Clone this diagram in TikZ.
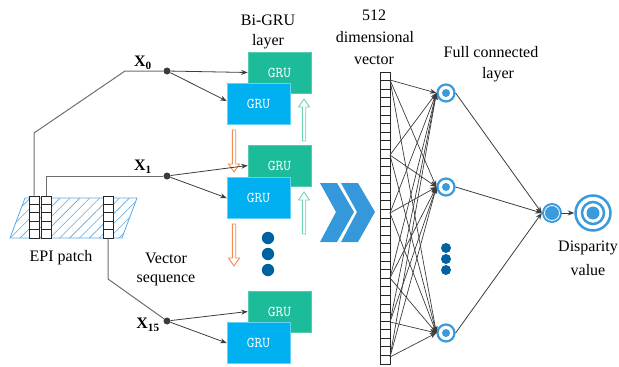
\documentclass[tikz,border=0pt]{standalone}
\usepackage{fontspec}
\setmainfont{Liberation Serif}
\usetikzlibrary{arrows.meta,patterns.meta,calc}
\definecolor{grugreen}{RGB}{28,187,153}
\definecolor{grublue}{RGB}{0,176,240}
\definecolor{tealarrow}{RGB}{110,212,182}
\definecolor{orangearrow}{RGB}{242,140,85}
\definecolor{dotblue}{RGB}{0,98,162}
\definecolor{chevblue}{RGB}{52,152,219}
\definecolor{fcblue}{RGB}{58,155,220}
\definecolor{hatchblue}{RGB}{90,170,230}
\definecolor{wiregray}{RGB}{110,110,110}
\definecolor{arrgray}{RGB}{60,60,60}
\begin{document}
\begin{tikzpicture}[x=1pt,y=-1pt,
  lbl/.style={font=\fontsize{16}{18}\selectfont, inner sep=0},
  xlbl/.style={font=\fontsize{16}{18}\selectfont\bfseries, inner sep=0},
  grn/.style={rectangle, fill=grugreen, draw=grugreen!75!white, line width=0.6pt,
    minimum width=63pt, minimum height=41pt, inner sep=0, text=white,
    font=\ttfamily\fontsize{15}{16}\selectfont},
  blu/.style={grn, fill=grublue, draw=grublue!60!white},
  dotn/.style={circle, fill=arrgray, minimum size=7pt, inner sep=0},
  arr/.style={draw=arrgray, line width=0.8pt, -{Stealth[length=6.5pt,width=5pt]}},
  wire/.style={draw=wiregray, line width=1pt},
  cellcol/.style={draw=black!85, fill=white, line width=0.7pt, minimum width=10pt, inner sep=0},
  fcn/.style={circle, draw=fcblue, line width=2.2pt, fill=white, minimum size=17pt, inner sep=0},
  hup/.pic={\draw[line width=0.9pt, fill=white, pic actions]
     (-1.7,0) -- (-1.7,-34) -- (-5.5,-34) -- (0,-42) -- (5.5,-34) -- (1.7,-34) -- (1.7,0) -- cycle;}
]
\useasboundingbox (0,0) rectangle (619,367);

% EPI patch
\path[draw=hatchblue, line width=0.8pt, pattern={Lines[angle=45,distance=7pt,line width=0.6pt]}, pattern color=hatchblue]
  (10,238) -- (25,198) -- (137,198) -- (122,238) -- cycle;
\node[cellcol, minimum height=42pt] (c1) at (34,217) {};
\node[cellcol, minimum height=42pt] (c2) at (46,217) {};
\node[cellcol, minimum height=42pt] (c3) at (108,217) {};
\foreach \k in {1,...,4}{
  \draw[black!85, line width=0.7pt] (29,{196+\k*8.4}) -- (39,{196+\k*8.4});
  \draw[black!85, line width=0.7pt] (41,{196+\k*8.4}) -- (51,{196+\k*8.4});
  \draw[black!85, line width=0.7pt] (103,{196+\k*8.4}) -- (113,{196+\k*8.4});
}
\node[lbl] (epi) at (61,258) {EPI patch};

% input dots and wires
\node[dotn] (d0) at (167,71) {};
\node[dotn] (d1) at (167,176) {};
\node[dotn] (d15) at (167,321) {};
\draw[wire] (c1.north) -- (34,133) -- (125,71) -- (d0);
\draw[wire] (c2.north) -- (46,176) -- (d1);
\draw[wire] (c3.south) -- (108,279) -- (d15);
\node[xlbl] (x0) at (143,63) {X\textsubscript{0}};
\node[xlbl] (x1) at (143,167) {X\textsubscript{1}};
\node[xlbl] (x15) at (148,325) {X\textsubscript{15}};
\node[lbl] (vs1) at (166,258) {Vector};
\node[lbl] (vs2) at (166,280) {sequence};

% hollow down arrows (behind)
\pic[draw=orangearrow, rotate=180] at (234,130) {hup};
\pic[draw=orangearrow, rotate=180] at (234,224) {hup};

% GRU boxes
\node[grn] (g0) at (279.5,72.5) {GRU};
\node[blu] (b0) at (258.5,104) {GRU};
\node[grn] (g1) at (279.5,165.5) {GRU};
\node[blu] (b1) at (258.5,198) {GRU};
\node[grn] (g15) at (279.5,311.5) {GRU};
\node[blu] (b15) at (258.5,343) {GRU};
\pic[draw=tealarrow] at (304,141) {hup};
\pic[draw=tealarrow] at (304,234) {hup};

\draw[arr] (d0) -- (g0.west);
\draw[arr] (d0) -- ([yshift=3pt]b0.west);
\draw[arr] (d1) -- (g1.west);
\draw[arr] (d1) -- (b1.west);
\draw[arr] (d15) -- (g15.west);
\draw[arr] (d15) -- (b15.west);

\fill[dotblue] (268,238) circle[radius=6.2pt];
\fill[dotblue] (268,254) circle[radius=6.2pt];
\fill[dotblue] (268,270) circle[radius=6.2pt];
\node[lbl] (bg1) at (268,20) {Bi-GRU};
\node[lbl] (bg2) at (268,42) {layer};

% chevrons
\fill[chevblue] (320,183) -- (337,183) -- (354,212) -- (337,242) -- (320,242) -- (336,212) -- cycle;
\fill[chevblue] (341,183) -- (358,183) -- (375,212) -- (358,242) -- (341,242) -- (357,212) -- cycle;

% 512 vector
\node[cellcol, minimum height=292pt] (vec) at (385,218) {};
\foreach \k in {1,...,33}
  \draw[black!85, line width=0.7pt] (380,{72+\k*292/34}) -- (390,{72+\k*292/34});
\node[lbl] (v1) at (374,15) {512};
\node[lbl] (v2) at (375,37) {dimensional};
\node[lbl] (v3) at (374,60) {vector};

% fully connected
\node[fcn] (f1) at (446,93) {};
\node[fcn] (f2) at (446,187) {};
\node[fcn] (f3) at (446,333) {};
\foreach \f in {f1,f2,f3} \fill[fcblue] (\f) circle[radius=4pt];
\coordinate (s1) at (390,80);
\coordinate (s2) at (390,155);
\coordinate (s3) at (390,213);
\coordinate (s4) at (390,278);
\coordinate (s5) at (390,322);
\coordinate (s6) at (390,357);
\foreach \i in {1,...,6}
  \foreach \f in {f1,f2,f3}
    \draw[arr, line width=0.7pt] (s\i) -- (\f.west);
\fill[dotblue] (446,248) circle[radius=5pt];
\fill[dotblue] (446,259) circle[radius=5pt];
\fill[dotblue] (446,270) circle[radius=5pt];
\node[lbl] (fc1) at (491,52) {Full connected};
\node[lbl] (fc2) at (498,75) {layer};

% output
\node[circle, fill=fcblue, minimum size=20pt, inner sep=0] (out) at (552,213) {};
\draw[white, line width=0.8pt] (out) circle[radius=7.5pt];
\foreach \f in {f1,f2,f3} \draw[arr] (\f.east) -- (out.west);
\node[circle, draw=fcblue, line width=2.5pt, fill=white, minimum size=35pt, inner sep=0] (fin) at (593,213) {};
\draw[fcblue, line width=2.5pt] (fin) circle[radius=11pt];
\fill[fcblue] (fin) circle[radius=6.5pt];
\draw[arr] (out.east) -- (fin.west);
\node[lbl] (dv1) at (588,248) {Disparity};
\node[lbl] (dv2) at (588,270) {value};
\end{tikzpicture}
\end{document}
